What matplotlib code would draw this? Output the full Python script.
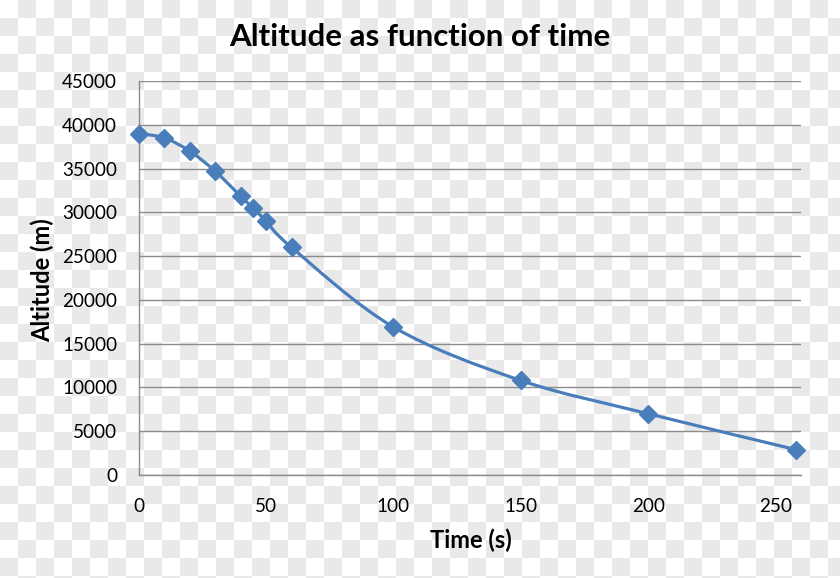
import numpy as np
import matplotlib
matplotlib.use("Agg")
import matplotlib.pyplot as plt
from matplotlib.path import Path
from matplotlib.patches import PathPatch

# ---- data ----
time_s = [0, 10, 20, 30, 40, 45, 50, 60, 100, 150, 200, 258]
altitude_m = [39000, 38500, 37000, 34700, 31850, 30450, 29000, 26000, 16900, 10800, 7000, 2900]
x_ticks = [0, 50, 100, 150, 200, 250]
y_ticks = [0, 5000, 10000, 15000, 20000, 25000, 30000, 35000, 40000, 45000]
title = "Altitude as function of time"
x_label = "Time (s)"
y_label = "Altitude (m)"

FONT = ["Lato", "DejaVu Sans"]
BLUE = "#4a7ebb"
GRID = "#8c8c8c"

W, H = 840, 578
fig = plt.figure(figsize=(W / 100, H / 100), dpi=100)

# transparent-style checkerboard background
bg = fig.add_axes([0, 0, 1, 1], zorder=-10)
cell = 18
nx, ny = int(np.ceil(W / cell)), int(np.ceil(H / cell))
ii, jj = np.meshgrid(np.arange(nx), np.arange(ny))
checker = ((ii + jj) % 2).astype(float)
bg.imshow(checker, cmap=matplotlib.colors.ListedColormap(["#ffffff", "#e9e9e9"]),
          interpolation="nearest", extent=[0, nx * cell, ny * cell, 0], aspect="auto")
bg.set_xlim(0, W)
bg.set_ylim(H, 0)
bg.axis("off")

ax = fig.add_axes([138.7 / W, 1 - 475 / H, (801 - 138.7) / W, (475 - 81) / H])
ax.set_facecolor("none")
ax.set_xlim(0, 260)
ax.set_ylim(0, 45000)
ax.set_xticks(x_ticks)
ax.set_yticks(y_ticks)
ax.grid(axis="y", color=GRID, linewidth=1.0)
ax.set_axisbelow(True)
for s in ["top", "right"]:
    ax.spines[s].set_visible(False)
for s in ["left", "bottom"]:
    ax.spines[s].set_color(GRID)
    ax.spines[s].set_linewidth(1.0)
ax.tick_params(length=0, labelsize=13.6, colors="#000000")
ax.tick_params(axis="y", pad=15.5)
ax.tick_params(axis="x", pad=16.5)
for lbl in ax.get_xticklabels() + ax.get_yticklabels():
    lbl.set_family(FONT)

# smoothed line (Catmull-Rom -> cubic Bezier, like spreadsheet smoothing)
x = np.asarray(time_s, float)
y = np.asarray(altitude_m, float)
n = len(x)
verts = [(x[0], y[0])]
codes = [Path.MOVETO]
for i in range(n - 1):
    p0 = np.array([x[max(i - 1, 0)], y[max(i - 1, 0)]])
    p1 = np.array([x[i], y[i]])
    p2 = np.array([x[i + 1], y[i + 1]])
    p3 = np.array([x[min(i + 2, n - 1)], y[min(i + 2, n - 1)]])
    c1 = p1 + (p2 - p0) / 6.0
    c2 = p2 - (p3 - p1) / 6.0
    verts += [tuple(c1), tuple(c2), tuple(p2)]
    codes += [Path.CURVE4] * 3
ax.add_patch(PathPatch(Path(verts, codes), fill=False, edgecolor=BLUE, linewidth=2.3,
                       capstyle="round", joinstyle="round", zorder=3, clip_on=False))
ax.plot(time_s, altitude_m, linestyle="none", marker="D", markersize=9.5,
        color=BLUE, zorder=4, clip_on=False)

fig.text(420 / W, 1 - 37 / H, title, ha="center", va="center", fontsize=22.5,
         fontweight="bold", family=FONT)
fig.text(471 / W, 1 - 540 / H, x_label, ha="center", va="center", fontsize=17,
         fontweight="bold", family=FONT)
fig.text(42 / W, 1 - 280 / H, y_label, ha="center", va="center", fontsize=17,
         fontweight="bold", family=FONT, rotation=90)

fig.savefig("out.png", dpi=100)
